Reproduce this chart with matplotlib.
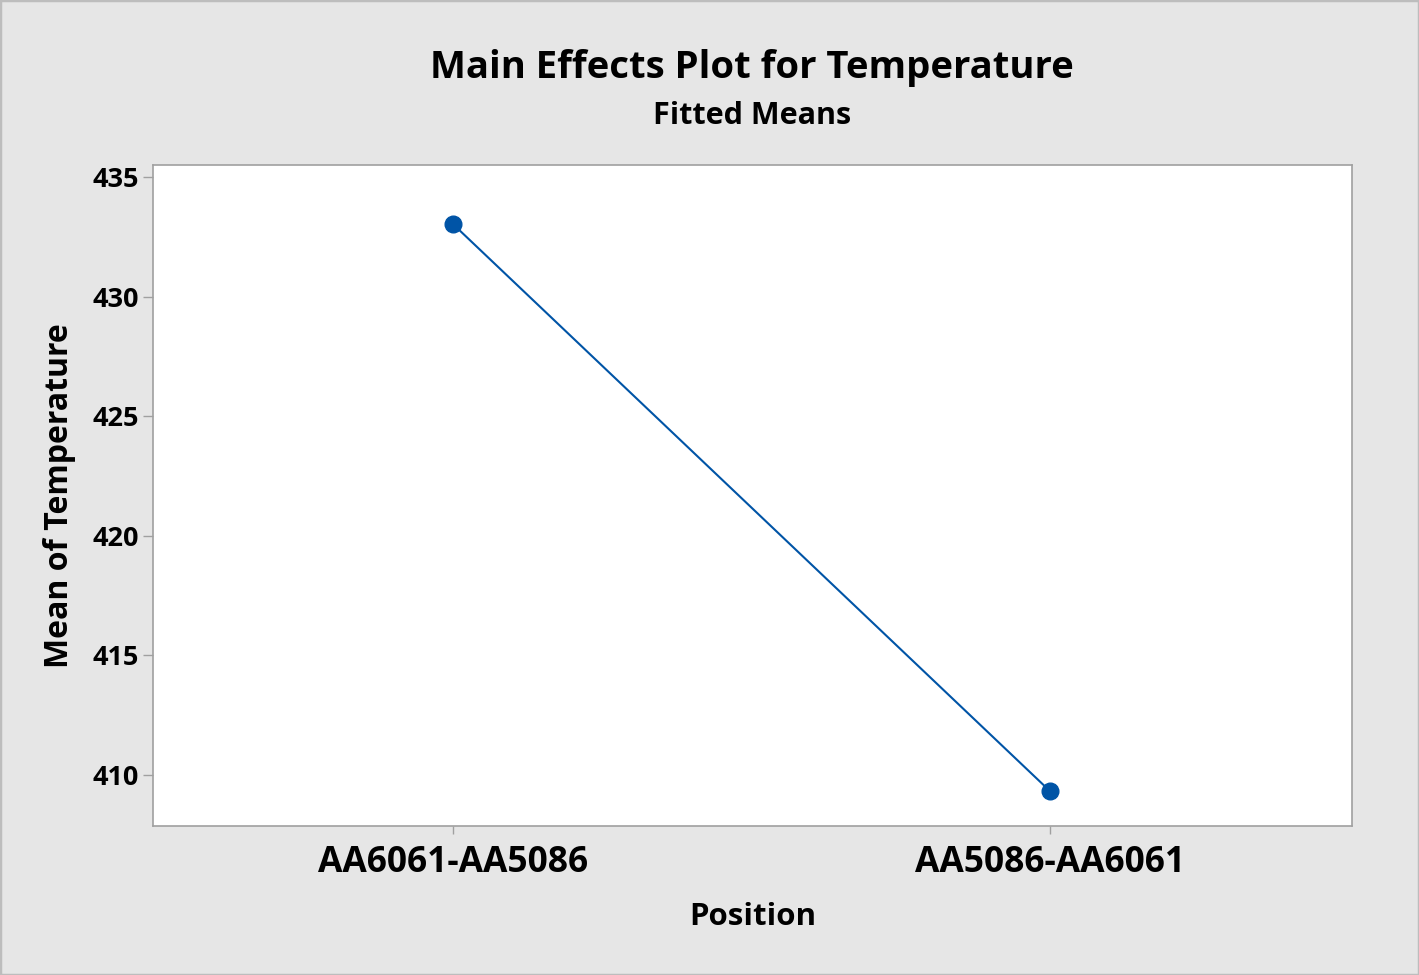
import matplotlib
matplotlib.use("Agg")
import matplotlib.pyplot as plt
from matplotlib.patches import Rectangle

categories = ["AA6061-AA5086", "AA5086-AA6061"]
means = [433.03, 409.33]
yticks = [410, 415, 420, 425, 430, 435]

plt.rcParams['font.family'] = ['Open Sans', 'DejaVu Sans']

fig = plt.figure(figsize=(14.19, 9.75), dpi=100)
fig.patch.set_facecolor('#e6e6e6')
fig.patches.append(Rectangle((0, 0), 1, 1, transform=fig.transFigure, fill=False,
                             edgecolor='#bdbdbd', linewidth=2.5, zorder=0))

W, H = 1419, 975
ax = fig.add_axes([153 / W, 1 - 826 / H, (1352 - 153) / W, (826 - 165) / H])
ax.set_facecolor('white')
x = list(range(len(categories)))
ax.plot(x, means, color='#0054a6', linewidth=1.5, marker='o', markersize=12,
        markerfacecolor='#0054a6', markeredgecolor='#0054a6')
ax.set_xlim(-0.5025, 1.506)
ax.set_ylim(407.87, 435.5)
ax.set_yticks(yticks)
ax.set_xticks(x)
ax.set_xticklabels(categories, fontsize=25.5, fontweight='bold')
ax.set_yticklabels([str(t) for t in yticks], fontsize=19.5, fontweight='bold')
for s in ax.spines.values():
    s.set_color('#a0a0a0')
    s.set_linewidth(1.2)
ax.tick_params(axis='y', direction='out', length=7, width=1, color='#a0a0a0', pad=3)
ax.tick_params(axis='x', direction='out', length=6, width=1, color='#a0a0a0', pad=8)
ax.set_xlabel("Position", fontsize=22.5, fontweight='bold', labelpad=15)
ax.set_ylabel("Mean of Temperature", fontsize=23, fontweight='bold', labelpad=12)

fig.text(752 / W, 1 - 68 / H, "Main Effects Plot for Temperature", ha='center', va='center',
         fontsize=27.5, fontweight='bold')
fig.text(752 / W, 1 - 116 / H, "Fitted Means", ha='center', va='center',
         fontsize=22, fontweight='bold')

fig.savefig("out.png", dpi=100, facecolor=fig.get_facecolor())
